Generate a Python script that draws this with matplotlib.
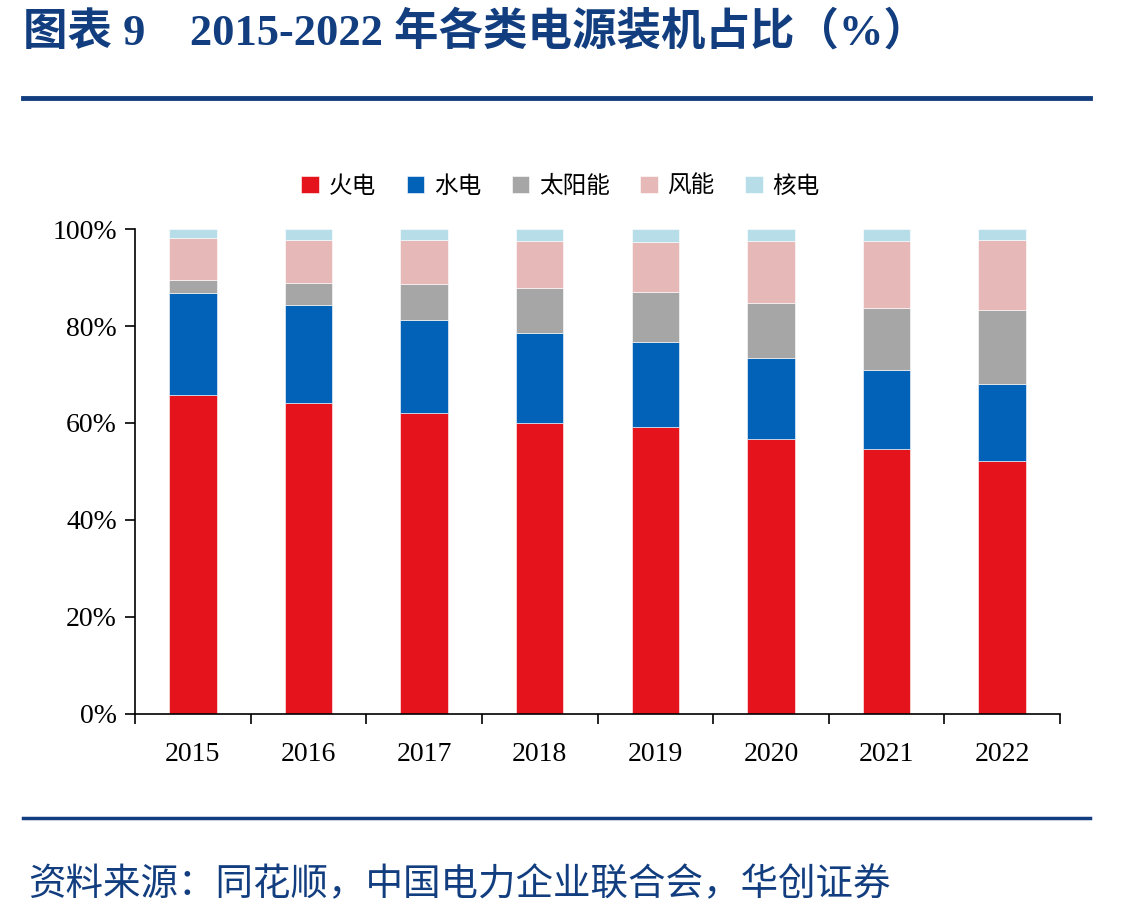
import matplotlib
matplotlib.use("Agg")
import matplotlib.pyplot as plt
import numpy as np

years = ["2015", "2016", "2017", "2018", "2019", "2020", "2021", "2022"]
series_names = ["火电", "水电", "太阳能", "风能", "核电"]
thermal = [65.8, 64.2, 62.1, 60.1, 59.1, 56.6, 54.6, 52.1]
hydro = [21.0, 20.1, 19.2, 18.5, 17.7, 16.7, 16.4, 16.0]
solar = [2.7, 4.6, 7.4, 9.2, 10.3, 11.5, 12.8, 15.3]
wind = [8.7, 8.9, 9.1, 9.7, 10.3, 12.8, 13.8, 14.4]
nuclear = [1.8, 2.2, 2.2, 2.5, 2.6, 2.4, 2.4, 2.2]
colors = ["#E5141C", "#0262B8", "#A6A6A6", "#E6B8B7", "#B7DDE8"]

title_text = "图表 9    2015-2022 年各类电源装机占比（%）"
source_text = "资料来源：同花顺，中国电力企业联合会，华创证券"
navy = "#123E80"

plt.rcParams['font.family'] = ['Liberation Serif', 'Noto Sans CJK SC']

fig = plt.figure(figsize=(11.28, 9.19), dpi=100)
ax = fig.add_axes([0.1197, 0.2231, 0.820, 0.5277])

x = np.arange(len(years))
bottom = np.zeros(len(years))
for name, vals, c in zip(series_names, [thermal, hydro, solar, wind, nuclear], colors):
    v = np.array(vals) / 100.0
    ax.bar(x, v, 0.41, bottom=bottom, color=c, label=name,
           edgecolor="white", linewidth=0.4)
    bottom += v

ax.set_xlim(-0.5, len(years) - 0.5)
ax.set_ylim(0, 1.0)
ax.set_yticks(np.linspace(0, 1, 6))
ax.set_yticklabels([f"{int(t)}%" for t in np.linspace(0, 100, 6)], fontsize=20)
ax.set_xticks(x)
ax.set_xticklabels(years, fontsize=20)
ax.set_xticks(np.arange(-0.5, len(years)), minor=True)
ax.tick_params(axis="x", which="major", length=0, pad=20)
ax.tick_params(axis="x", which="minor", length=7, width=1.2, direction="out")
ax.tick_params(axis="y", length=7, width=1.2, direction="out", pad=6)
for s in ["top", "right"]:
    ax.spines[s].set_visible(False)
for s in ["left", "bottom"]:
    ax.spines[s].set_linewidth(1.2)

leg = fig.legend(loc="center", bbox_to_anchor=(0.497, 0.797), ncol=5, frameon=False,
                 prop={"family": ["Noto Sans CJK SC"], "size": 17},
                 handlelength=0.75, handleheight=0.75, handletextpad=0.4,
                 columnspacing=1.3)

fig.text(0.02, 0.965, title_text, fontsize=32, fontweight="bold", color=navy,
         va="center", ha="left")
fig.add_artist(plt.Line2D([0.02, 0.966], [0.893, 0.893], color=navy, lw=3.5,
                          transform=fig.transFigure))
fig.add_artist(plt.Line2D([0.02, 0.966], [0.110, 0.110], color=navy, lw=2.5,
                          transform=fig.transFigure))
fig.text(0.025, 0.037, source_text, fontsize=27, style="italic", color=navy,
         va="center", ha="left", family=["Noto Sans CJK SC"])

fig.savefig("out.png", dpi=100)
